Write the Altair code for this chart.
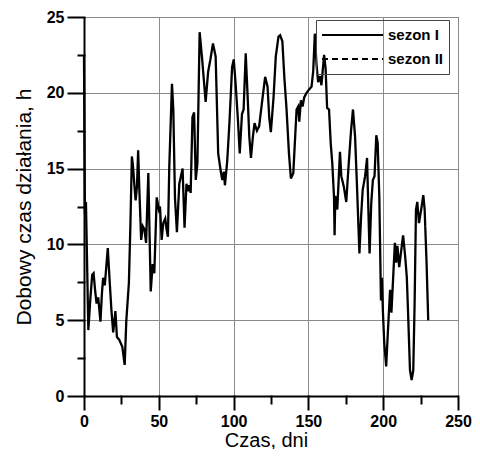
import altair as alt
import pandas as pd

days = [0, 0.6, 1.3, 2.9, 4.3, 5.5, 6.4, 7.4, 8.4, 9.5, 11, 12, 12.8, 13.9, 15.9, 17.2, 18.3, 19.5, 21, 22,
        23.6, 25.6, 27.2, 28.3, 30, 31, 32, 32.8, 33.6, 34.5, 35.4, 36.2, 37, 38.2, 39.3, 40.4, 41.5, 43, 44.6, 45.9,
        47, 48.6, 50, 50.8, 51.9, 53, 54.3, 55.2, 56.1, 57, 58.8, 59.7, 60.8, 62.1, 63.7, 65.9, 67.2, 68.5, 69.4, 70.2,
        71.3, 72.5, 73.6, 74.7, 75.8, 77.3, 79, 81.3, 83, 84.5, 86.2, 88, 89.7, 91.3, 92.4, 93.5, 94.2, 95.7, 97.2, 99,
        100.1, 101.2, 102.9, 104.1, 105.6, 106.7, 108.1, 109.5, 110.5, 111.6, 112.9, 114, 115.6, 117.1, 118.9, 121.1,
        122.7, 123.8, 124.9, 126.7, 128.2, 130, 131.1, 132.6, 133.9, 135.4, 137, 138.3, 139.9, 141, 142.1, 143.2,
        143.9, 145, 146.1, 147.2, 148.8, 150.3, 152.1, 153.2, 154.3, 155.4, 156.5, 157.8, 158.7, 160.5, 161.5, 162.5,
        163.8, 164.9, 166, 167.1, 167.5, 168, 169.3, 171.1, 172, 173.7, 175.3, 176.8, 178.5, 179.8, 181.2, 182.5,
        184.1, 185.2, 186.3, 187.9, 189.2, 190.3, 190.9, 192, 193.1, 194.2, 195.4, 196.3, 197.4, 198.5, 199.1, 199.8,
        200.7, 202, 203.2, 204.6, 205.5, 206.9, 207.8, 208.7, 209.5, 210.7, 211.8, 213.3, 214.7, 215.8, 216.8, 217.9,
        219, 220.1, 221, 221.9, 222.8, 223.9, 225.4, 226.8, 227.7, 229, 230.1]

hours = [22.5, 12.0, 12.8, 4.35, 6.5, 8.0, 8.1, 7.0, 6.1, 6.5, 4.9, 6.8, 7.8, 7.3, 9.76, 7.5, 5.7, 4.2, 5.6, 3.9,
         3.7, 3.25, 2.05, 5.0, 7.45, 11.2, 15.8, 15.1, 14.0, 12.9, 13.8, 16.2, 13.6, 10.3, 11.2, 11.0, 10.1, 14.7, 6.9, 8.7,
         8.1, 13.1, 12.3, 12.5, 10.3, 11.4, 11.7, 11.0, 10.5, 15.1, 20.6, 18.9, 13.1, 10.8, 14.0, 15.0, 11.1, 14.0, 13.5, 13.9,
         13.4, 18.4, 18.7, 14.25, 15.35, 24.0, 22.2, 19.4, 21.4, 22.2, 23.25, 22.4, 16.0, 14.9, 14.25, 14.8, 13.9, 15.45, 18.0, 21.7,
         22.2, 20.8, 18.2, 16.0, 18.6, 18.9, 22.6, 19.5, 17.1, 15.7, 17.1, 18.0, 17.5, 17.8, 19.3, 21.05,
         20.4, 18.4, 17.4, 19.7, 22.4, 23.7, 23.8, 23.4, 21.05, 18.9, 16.0, 14.35, 14.7, 16.8, 18.9, 19.1,
         18.1, 19.5, 19.1, 19.7, 20.0, 20.2, 20.4, 21.4, 23.9, 21.9, 20.7, 21.1, 20.5, 22.5, 21.6, 19.0,
         18.9, 16.7, 15.3, 13.15, 10.6, 13.2, 12.3, 16.1, 14.5, 13.8, 12.8, 15.1, 17.5, 18.9, 17.1, 13.8,
         9.4, 11.8, 13.6, 14.5, 15.7, 11.5, 9.4, 12.7, 14.25, 14.5, 17.2, 16.7, 13.15, 6.3, 7.8, 5.6,
         3.5, 1.95, 4.35, 7.0, 5.5, 8.3, 10.1, 8.8, 9.9, 8.5, 9.4, 10.6, 9.2, 7.8, 5.0, 1.7,
         1.05, 1.7, 6.1, 12.3, 12.8, 11.4, 12.3, 13.25, 12.3, 8.75, 5.0]

series_names = ["sezon I", "sezon II"]
x_ticks = [0, 25, 50, 75, 100, 125, 150, 175, 200, 225, 250]
y_ticks = [0, 2.5, 5, 7.5, 10, 12.5, 15, 17.5, 20, 22.5, 25]

W, H = 374, 379
df = pd.DataFrame({"dzien": days, "h": hours, "sezon": ["sezon I"] * len(days)})

FONT = "Liberation Sans"
xscale = alt.Scale(domain=[0, 250], nice=False, zero=False)
yscale = alt.Scale(domain=[0, 25], nice=False, zero=False)

x_is_major = "datum.value % 50 === 0"
y_is_major = "datum.value % 5 === 0"

line = alt.Chart(df).mark_line(strokeWidth=2.3, color="black").encode(
    x=alt.X("dzien:Q", scale=xscale,
            axis=alt.Axis(values=x_ticks, title="Czas, dni", orient="bottom",
                          tickSize=alt.condition(x_is_major, alt.value(13), alt.value(7)),
                          gridOpacity=alt.condition(x_is_major, alt.value(1), alt.value(0)),
                          labelExpr=f"{x_is_major} ? datum.label : ''",
                          labelPadding=4, titleFontSize=20,
                          titleBaseline="alphabetic", titleY=50, titleX=182)),
    y=alt.Y("h:Q", scale=yscale,
            axis=alt.Axis(values=y_ticks, title="Dobowy czas działania, h", orient="left",
                          tickSize=alt.condition(y_is_major, alt.value(16), alt.value(6)),
                          gridOpacity=alt.condition(y_is_major, alt.value(1), alt.value(0)),
                          labelExpr=f"{y_is_major} ? datum.label : ''",
                          labelPadding=4, titleFontSize=21, titleAngle=-90,
                          titleBaseline="middle", titleAlign="center", titleX=-60)),
    strokeDash=alt.StrokeDash(
        "sezon:N",
        scale=alt.Scale(domain=series_names, range=[[1, 0], [6, 4]]),
        legend=alt.Legend(
            title=None, orient="none", legendX=232, legendY=3,
            strokeColor="#444", padding=5, symbolType="stroke", symbolSize=3721,
            symbolStrokeWidth=2, symbolStrokeColor="black", clipHeight=20, rowPadding=4,
            labelFont=FONT, labelFontSize=15, labelFontWeight="bold", labelColor="black",
            labelOffset=4,
        ),
    ),
).properties(
    width=W, height=H,
    padding={"left": 76, "top": 9, "right": 14, "bottom": 53},
    autosize=alt.AutoSizeParams(type="none"),
)

chart = line.configure_axis(
    domain=True, domainColor="#000000", domainWidth=2, domainOpacity=1,
    ticks=True, tickColor="#000000", tickWidth=2, tickOpacity=1, tickCap="square",
    labelFont=FONT, labelFontSize=16, labelFontWeight="bold", labelColor="#000000",
    titleFont=FONT, titleFontWeight="normal", titleColor="#000000",
    labelOverlap=False, labelFlush=False, grid=True, gridColor="#8a8a8a", gridWidth=1,
).configure_view(stroke="#333", strokeWidth=1)

chart.save("out.html", embed_options={"renderer": "svg", "actions": False})
